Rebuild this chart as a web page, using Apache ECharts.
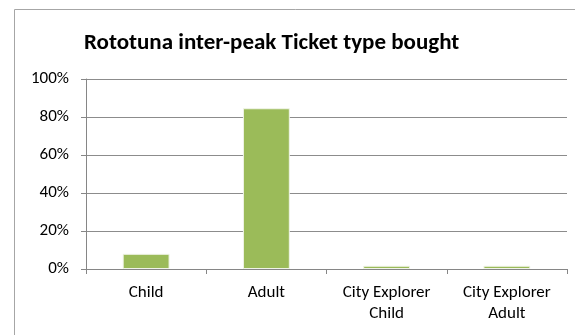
<!DOCTYPE html>
<html>
<head>
<meta charset="utf-8">
<script src="https://cdn.jsdelivr.net/npm/echarts@6/dist/echarts.min.js"></script>
<style>
html,body{margin:0;padding:0;background:#fff;}
#chart{width:575px;height:335px;}
</style>
</head>
<body>
<div id="chart"></div>
<script>
var titleText = 'Rototuna inter-peak Ticket type bought';
var categories = ['Child', 'Adult', 'City Explorer\nChild', 'City Explorer\nAdult'];
var values = [8.0, 84.6, 1.7, 1.7];
var yTicks = [0, 20, 40, 60, 80, 100];

var chart = echarts.init(document.getElementById('chart'), null, {renderer: 'canvas'});
var font = 'Carlito, Calibri, Lato, sans-serif';
chart.setOption({
  animation: false,
  backgroundColor: '#ffffff',
  title: {
    text: titleText,
    left: 79,
    top: 27,
    textStyle: {fontFamily: font, fontSize: 23, fontWeight: 'bold', color: '#000'}
  },
  graphic: [{
    type: 'rect',
    shape: {x: 14.5, y: 9.5, width: 700, height: 500},
    style: {fill: 'none', stroke: '#a6a6a6', lineWidth: 1},
    silent: true,
    z: -1
  }],
  grid: {left: 86, right: 8, top: 79, bottom: 66, containLabel: false},
  xAxis: {
    type: 'category',
    data: categories,
    axisLine: {lineStyle: {color: '#868686', width: 1}},
    axisTick: {show: true, alignWithLabel: false, length: 5, lineStyle: {color: '#868686'}},
    axisLabel: {fontFamily: font, fontSize: 17, color: '#000', margin: 13, lineHeight: 21, interval: 0}
  },
  yAxis: {
    type: 'value',
    min: yTicks[0],
    max: yTicks[yTicks.length - 1],
    interval: 20,
    axisLine: {show: true, lineStyle: {color: '#868686', width: 1}},
    axisTick: {show: true, length: 5, lineStyle: {color: '#868686'}},
    splitLine: {show: true, lineStyle: {color: '#8c8c8c', width: 1}},
    axisLabel: {fontFamily: font, fontSize: 17, color: '#000', margin: 17,
      formatter: function (v) { return v + '%'; }}
  },
  series: [{
    type: 'bar',
    data: values,
    barWidth: '39%',
    itemStyle: {color: '#9BBB59', borderColor: '#f0f4e8', borderWidth: 1},
    z: 3
  }]
});
</script>
</body>
</html>
